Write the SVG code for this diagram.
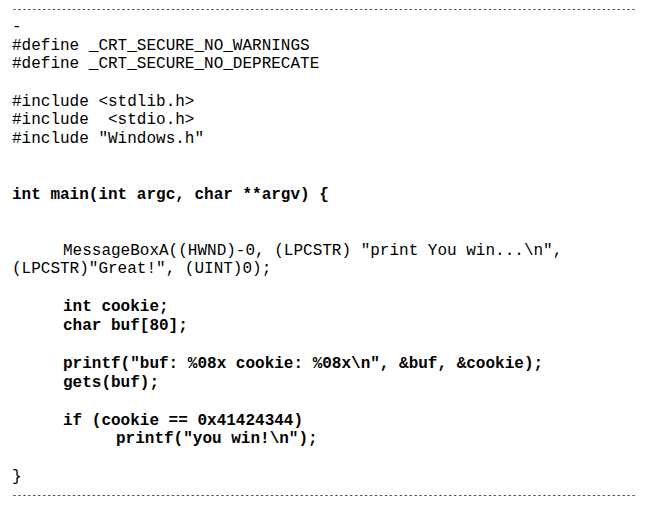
<svg xmlns="http://www.w3.org/2000/svg" width="648" height="510" viewBox="0 0 648 510">
<style>
text{font-family:"Liberation Mono","Courier New",monospace;font-size:16px;fill:#000;white-space:pre}
.b{font-weight:bold}
.d{font-size:8.3px}
</style>
<rect width="648" height="510" fill="#fff"/>
<text class="d" x="12" y="12" textLength="624" lengthAdjust="spacingAndGlyphs">------------------------------------------------------------------------------------------------------------------------------</text>
<text x="12" y="31">-</text>
<text x="12" y="50">#define _CRT_SECURE_NO_WARNINGS</text>
<text x="12" y="68">#define _CRT_SECURE_NO_DEPRECATE</text>
<text x="12" y="106">#include &lt;stdlib.h&gt;</text>
<text x="12" y="124">#include  &lt;stdio.h&gt;</text>
<text x="12" y="143">#include "Windows.h"</text>
<text class="b" x="12" y="199">int main(int argc, char **argv) {</text>
<text x="63" y="255">MessageBoxA((HWND)-0, (LPCSTR) "print You win...\n",</text>
<text x="12" y="273">(LPCSTR)"Great!", (UINT)0);</text>
<text class="b" x="63" y="311">int cookie;</text>
<text class="b" x="63" y="330">char buf[80];</text>
<text class="b" x="63" y="368">printf("buf: %08x cookie: %08x\n", &amp;buf, &amp;cookie);</text>
<text class="b" x="63" y="387">gets(buf);</text>
<text class="b" x="63" y="425">if (cookie == 0x41424344)</text>
<text class="b" x="116" y="443">printf("you win!\n");</text>
<text x="12" y="481">}</text>
<text class="d" x="12" y="498" textLength="624" lengthAdjust="spacingAndGlyphs">------------------------------------------------------------------------------------------------------------------------------</text>
</svg>
